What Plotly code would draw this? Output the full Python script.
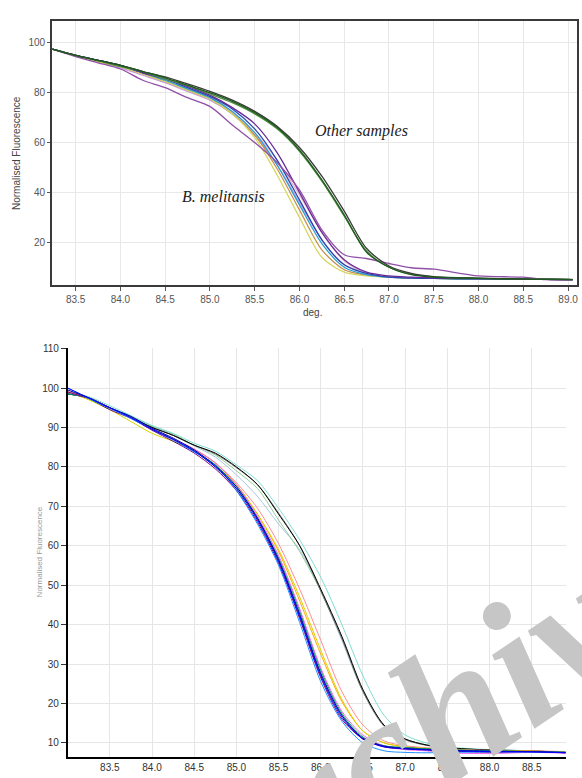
import plotly.graph_objects as go

W, H = 582, 778

# ---------------- Top chart data ----------------
TOP_X = [83.24, 83.5, 83.75, 84.0, 84.25, 84.5, 84.75, 85.0, 85.25, 85.5, 85.75,
         86.0, 86.25, 86.5, 86.75, 87.0, 87.25, 87.5, 88.0, 88.5, 88.75, 89.05]

top_other_green = [97.5, 95, 93, 91, 88.5, 86, 83, 80, 76.5, 72, 66, 57, 45, 31, 16, 10, 7, 6, 5.5, 5.2, 5.1, 5.0]
top_other_black = [97.5, 95, 93, 91, 88.5, 86.3, 83.5, 80.5, 77, 72.5, 66.5, 58, 46.5, 32.5, 17.5, 10.5, 7.5, 6.2, 5.6, 5.3, 5.2, 5.1]
top_other_green2 = [97.5, 95, 92.8, 90.5, 88.5, 85.5, 82.8, 79.5, 76, 71.5, 65.5, 56.5, 44.5, 30.5, 16.5, 10, 7.2, 6.1, 5.5, 5.3, 5.2, 5.0]
top_blue = [97.5, 95, 93, 91, 88, 85.5, 82, 78.5, 73.5, 65.5, 53, 37, 21, 11, 7.5, 6, 5.6, 5.5, 5.3, 5.2, 5.1, 5.0]
top_cyan = [97.5, 95, 93, 90.8, 88, 85, 81.5, 78, 72.5, 64, 51, 35, 19.5, 10, 7, 6, 5.7, 5.5, 5.3, 5.2, 5.1, 5.0]
top_yellow = [97.5, 95, 92.5, 90.5, 87.5, 84.5, 81, 77.5, 71.5, 62, 47, 30, 14, 8, 6.5, 6, 5.7, 5.5, 5.3, 5.2, 5.1, 5.0]
top_pink = [97.5, 95, 92.8, 90.5, 87.5, 84.5, 81, 77.5, 72, 64, 53, 39, 24, 12.5, 7.5, 6.2, 5.8, 5.6, 5.4, 5.2, 5.1, 5.0]
top_violet = [97.5, 95, 93, 91, 88, 85.5, 82.5, 79, 74, 67.5, 56, 40, 24, 13, 8, 6.5, 6, 5.7, 5.4, 5.2, 5.1, 5.0]
top_purple_low = [97.5, 94.5, 92, 89.5, 85, 82, 78, 74.5, 67, 60, 52, 41, 25, 15, 13.5, 11.5, 9.8, 9.2, 6.5, 6, 5, 4.8]
top_orange = [97.5, 95, 92.5, 90.5, 87.5, 84.5, 81, 77.5, 71.5, 63, 49.5, 33, 17, 9, 6.8, 6, 5.7, 5.5, 5.3, 5.2, 5.1, 5.0]
top_lavender = [97.5, 95, 92.5, 90, 87, 84, 80.5, 77, 71.5, 63, 51, 36, 21, 11, 7.5, 6.2, 5.8, 5.6, 5.4, 5.2, 5.1, 5.0]

TOP_SERIES = [
    ("lavender", "#c898e0", top_lavender),
    ("pink", "#e8b4c8", top_pink),
    ("orange", "#c89050", top_orange),
    ("yellow", "#d6d660", top_yellow),
    ("cyan", "#2a9fcf", top_cyan),
    ("blue", "#2848b0", top_blue),
    ("violet", "#6a2a9a", top_violet),
    ("purple_low", "#9050a8", top_purple_low),
    ("other_green2", "#4f8f3f", top_other_green2),
    ("other_black", "#3a3a3a", top_other_black),
    ("other_green", "#1e5a1e", top_other_green),
]
TOP_XTICKS = [83.5, 84.0, 84.5, 85.0, 85.5, 86.0, 86.5, 87.0, 87.5, 88.0, 88.5, 89.0]
TOP_YTICKS = [20, 40, 60, 80, 100]

# ---------------- Bottom chart data ----------------
BOT_X = [83.0, 83.25, 83.5, 83.75, 84.0, 84.25, 84.5, 84.75, 85.0, 85.25, 85.5,
         85.75, 86.0, 86.25, 86.5, 86.75, 87.0, 87.25, 87.5, 88.0, 88.5, 88.9]

bot_blue = [100, 97.5, 95, 92.5, 89.5, 87, 84, 80, 74.5, 66.5, 56, 42, 27, 16.5, 11, 9, 8.5, 8.2, 8, 7.8, 7.7, 7.5]
bot_navy = [99.5, 97.5, 95, 92.8, 89.8, 87.3, 84.3, 80.3, 75, 67, 56.5, 42.5, 27.5, 17, 11.2, 9.2, 8.6, 8.3, 8.1, 7.9, 7.8, 7.6]
bot_dodger = [100, 97.3, 94.8, 92.3, 89.5, 86.8, 83.8, 80.5, 74, 65.5, 55, 40.5, 25.5, 15.5, 10, 8, 7.6, 7.5, 7.6, 7.7, 7.7, 7.6]
bot_purple = [99, 97.3, 94.5, 92.3, 89.3, 86.5, 83.5, 79.5, 74, 66, 55.5, 41.5, 26.5, 16, 11, 9, 8.5, 8.3, 8, 7.6, 7.8, 7.5]
bot_violet = [99, 97.5, 95, 92.5, 89.5, 87, 84.5, 81, 75.5, 67.5, 57.5, 44, 29, 18, 12, 9.2, 8.3, 8, 7.5, 7.3, 7.6, 7.4]
bot_teal = [98.5, 97.5, 95, 92.5, 89.5, 87, 84, 80, 74.5, 66.8, 56.3, 42.8, 27.8, 17, 11, 9.2, 8.8, 8.5, 8.3, 8, 7.8, 7.6]
bot_green = [98.5, 97.5, 95, 92.5, 89.5, 87, 84, 80.5, 75, 67, 57, 43.5, 28.5, 17.5, 11.5, 9.3, 8.8, 8.5, 8.2, 8, 7.8, 7.6]
bot_yellow = [99, 97, 94.5, 91.5, 88.5, 86.5, 84, 80.5, 75.5, 68, 59, 47, 33.5, 21, 13, 10, 9, 8.6, 8.3, 8, 7.9, 7.7]
bot_orange = [99, 97.5, 95, 92.5, 89.5, 87, 84.5, 81, 75.5, 68, 58.5, 46, 32.5, 20.5, 13, 10, 9, 8.6, 8.3, 8, 7.9, 7.7]
bot_salmon = [99, 97.5, 95, 92.5, 89.5, 87, 84.5, 81, 76, 69.5, 60.5, 49, 36, 23, 14.5, 10.5, 9.3, 8.8, 8.5, 8.1, 8, 7.8]
bot_black = [98.5, 97.5, 95, 92.5, 90, 88, 85.5, 83.5, 80, 75.5, 68, 60, 49, 37, 23.5, 14.5, 11, 9.5, 8.8, 8.2, 8, 7.5]
bot_gray = [98.5, 97.5, 95, 92.5, 90, 88, 85.5, 83.3, 79.8, 75.5, 68.3, 60, 48.5, 36.5, 23, 14.2, 10.8, 9.4, 8.7, 8.2, 8, 7.5]
bot_turquoise = [99, 97.8, 95.5, 93, 90.5, 88.5, 86, 84, 80.5, 76.5, 69.5, 61.5, 52, 40, 27, 17, 12, 10, 9, 8.3, 8, 7.6]
bot_lightgreen = [99, 97.5, 95, 92.8, 90.3, 88.3, 85.5, 83, 79, 74.5, 66.5, 58.5, 48.5, 36.5, 23, 14.5, 11, 9.5, 8.8, 8.2, 8, 7.6]
bot_lightblue = [99, 97.5, 95, 92.8, 90.3, 88, 85.3, 82.5, 78, 72.5, 65.5, 59, 48.5, 36, 23, 14.5, 11, 9.5, 8.7, 8.2, 7.9, 7.6]

BOT_SERIES = [
    ("lightblue", "#a8c0e8", bot_lightblue),
    ("lightgreen", "#90d090", bot_lightgreen),
    ("turquoise", "#7fdcd0", bot_turquoise),
    ("gray", "#707070", bot_gray),
    ("black", "#000000", bot_black),
    ("salmon", "#ff8c8c", bot_salmon),
    ("orange", "#ffa500", bot_orange),
    ("yellow", "#d4d400", bot_yellow),
    ("green", "#00a050", bot_green),
    ("teal", "#008080", bot_teal),
    ("violet", "#ee66ee", bot_violet),
    ("purple", "#800080", bot_purple),
    ("dodger", "#1e90ff", bot_dodger),
    ("navy", "#0000a0", bot_navy),
    ("blue", "#0000ff", bot_blue),
]
BOT_XTICKS = [83.5, 84.0, 84.5, 85.0, 85.5, 86.0, 86.5, 87.0, 87.5, 88.0, 88.5]
BOT_YTICKS = [10, 20, 30, 40, 50, 60, 70, 80, 90, 100, 110]

# ---------------- Figure ----------------
fig = go.Figure()
for name, color, ys in TOP_SERIES:
    fig.add_trace(go.Scatter(x=TOP_X, y=ys, mode="lines", name=name,
                             line=dict(color=color, width=1.3, shape="spline", smoothing=0.8),
                             xaxis="x", yaxis="y", showlegend=False, hoverinfo="skip"))
for name, color, ys in BOT_SERIES:
    fig.add_trace(go.Scatter(x=BOT_X, y=ys, mode="lines", name=name,
                             line=dict(color=color, width=1, shape="spline", smoothing=0.8),
                             xaxis="x2", yaxis="y2", showlegend=False, hoverinfo="skip"))

tick_font_top = dict(family="Liberation Sans, Arial", size=10, color="#555555")
tick_font_bot = dict(family="Liberation Sans, Arial", size=10, color="#333333")

fig.update_layout(
    width=W, height=H, margin=dict(l=0, r=0, t=0, b=0),
    paper_bgcolor="white", plot_bgcolor="white",
    xaxis=dict(domain=[52 / W, 578 / W], range=[83.235, 89.1], anchor="y",
               tickvals=TOP_XTICKS, ticktext=[f"{v:.1f}" for v in TOP_XTICKS],
               showgrid=True, gridcolor="#e8e8e8", gridwidth=1, zeroline=False,
               showline=True, mirror=True, linecolor="#3a3a3a", linewidth=1.5,
               ticks="outside", ticklen=4, tickcolor="#555555", tickfont=tick_font_top),
    yaxis=dict(domain=[1 - 282 / H, 1 - 16 / H], range=[2.8, 108.8], anchor="x",
               tickvals=TOP_YTICKS, showgrid=True, gridcolor="#e8e8e8", gridwidth=1,
               zeroline=False, showline=True, mirror=True, linecolor="#3a3a3a", linewidth=1.5,
               ticks="outside", ticklen=3, tickcolor="#555555", tickfont=tick_font_top),
    xaxis2=dict(domain=[68 / W, 567 / W], range=[83.003, 88.906], anchor="y2",
                tickvals=BOT_XTICKS, ticktext=[f"{v:.1f}" for v in BOT_XTICKS],
                showgrid=True, gridcolor="#e6e6e6", gridwidth=1, zeroline=False,
                showline=True, mirror=False, linecolor="#000000", linewidth=2,
                ticks="", tickfont=tick_font_bot),
    yaxis2=dict(domain=[1 - 757 / H, 1 - 345 / H], range=[6.4, 110.2], anchor="x2",
                tickvals=BOT_YTICKS, showgrid=True, gridcolor="#e6e6e6", gridwidth=1,
                zeroline=False, showline=True, mirror=False, linecolor="#000000", linewidth=2,
                ticks="outside", ticklen=5, tickcolor="#333333", tickfont=tick_font_bot),
)

sans = "Liberation Sans, Arial"
serif = "Liberation Serif, Times New Roman"
annotations = [
    dict(text="Normalised Fluorescence", x=16 / W, y=1 - 149 / H, textangle=-90,
         font=dict(family=sans, size=10, color="#444444")),
    dict(text="deg.", x=313 / W, y=1 - 309 / H,
         font=dict(family=sans, size=10, color="#444444")),
    dict(text="<i>Other samples</i>", x=362 / W, y=1 - 127 / H,
         font=dict(family=serif, size=16, color="#222222")),
    dict(text="<i>B. melitansis</i>", x=224 / W, y=1 - 193 / H,
         font=dict(family=serif, size=16, color="#222222")),
    dict(text="Normalised Fluorescence", x=40 / W, y=1 - 550 / H, textangle=-90,
         font=dict(family=sans, size=8, color="#999999")),
    dict(text="<b><i>Archive</i></b>", x=424 / W, y=1 - 728 / H, textangle=-34,
         font=dict(family=serif, size=185, color="#c6c6c6")),
]
for a in annotations:
    a.update(xref="paper", yref="paper", showarrow=False, xanchor="center", yanchor="middle")
fig.update_layout(annotations=annotations)

fig.write_html("out.html", config={"displayModeBar": False},
               post_script="document.body.style.margin='0';document.body.style.overflow='hidden';")
